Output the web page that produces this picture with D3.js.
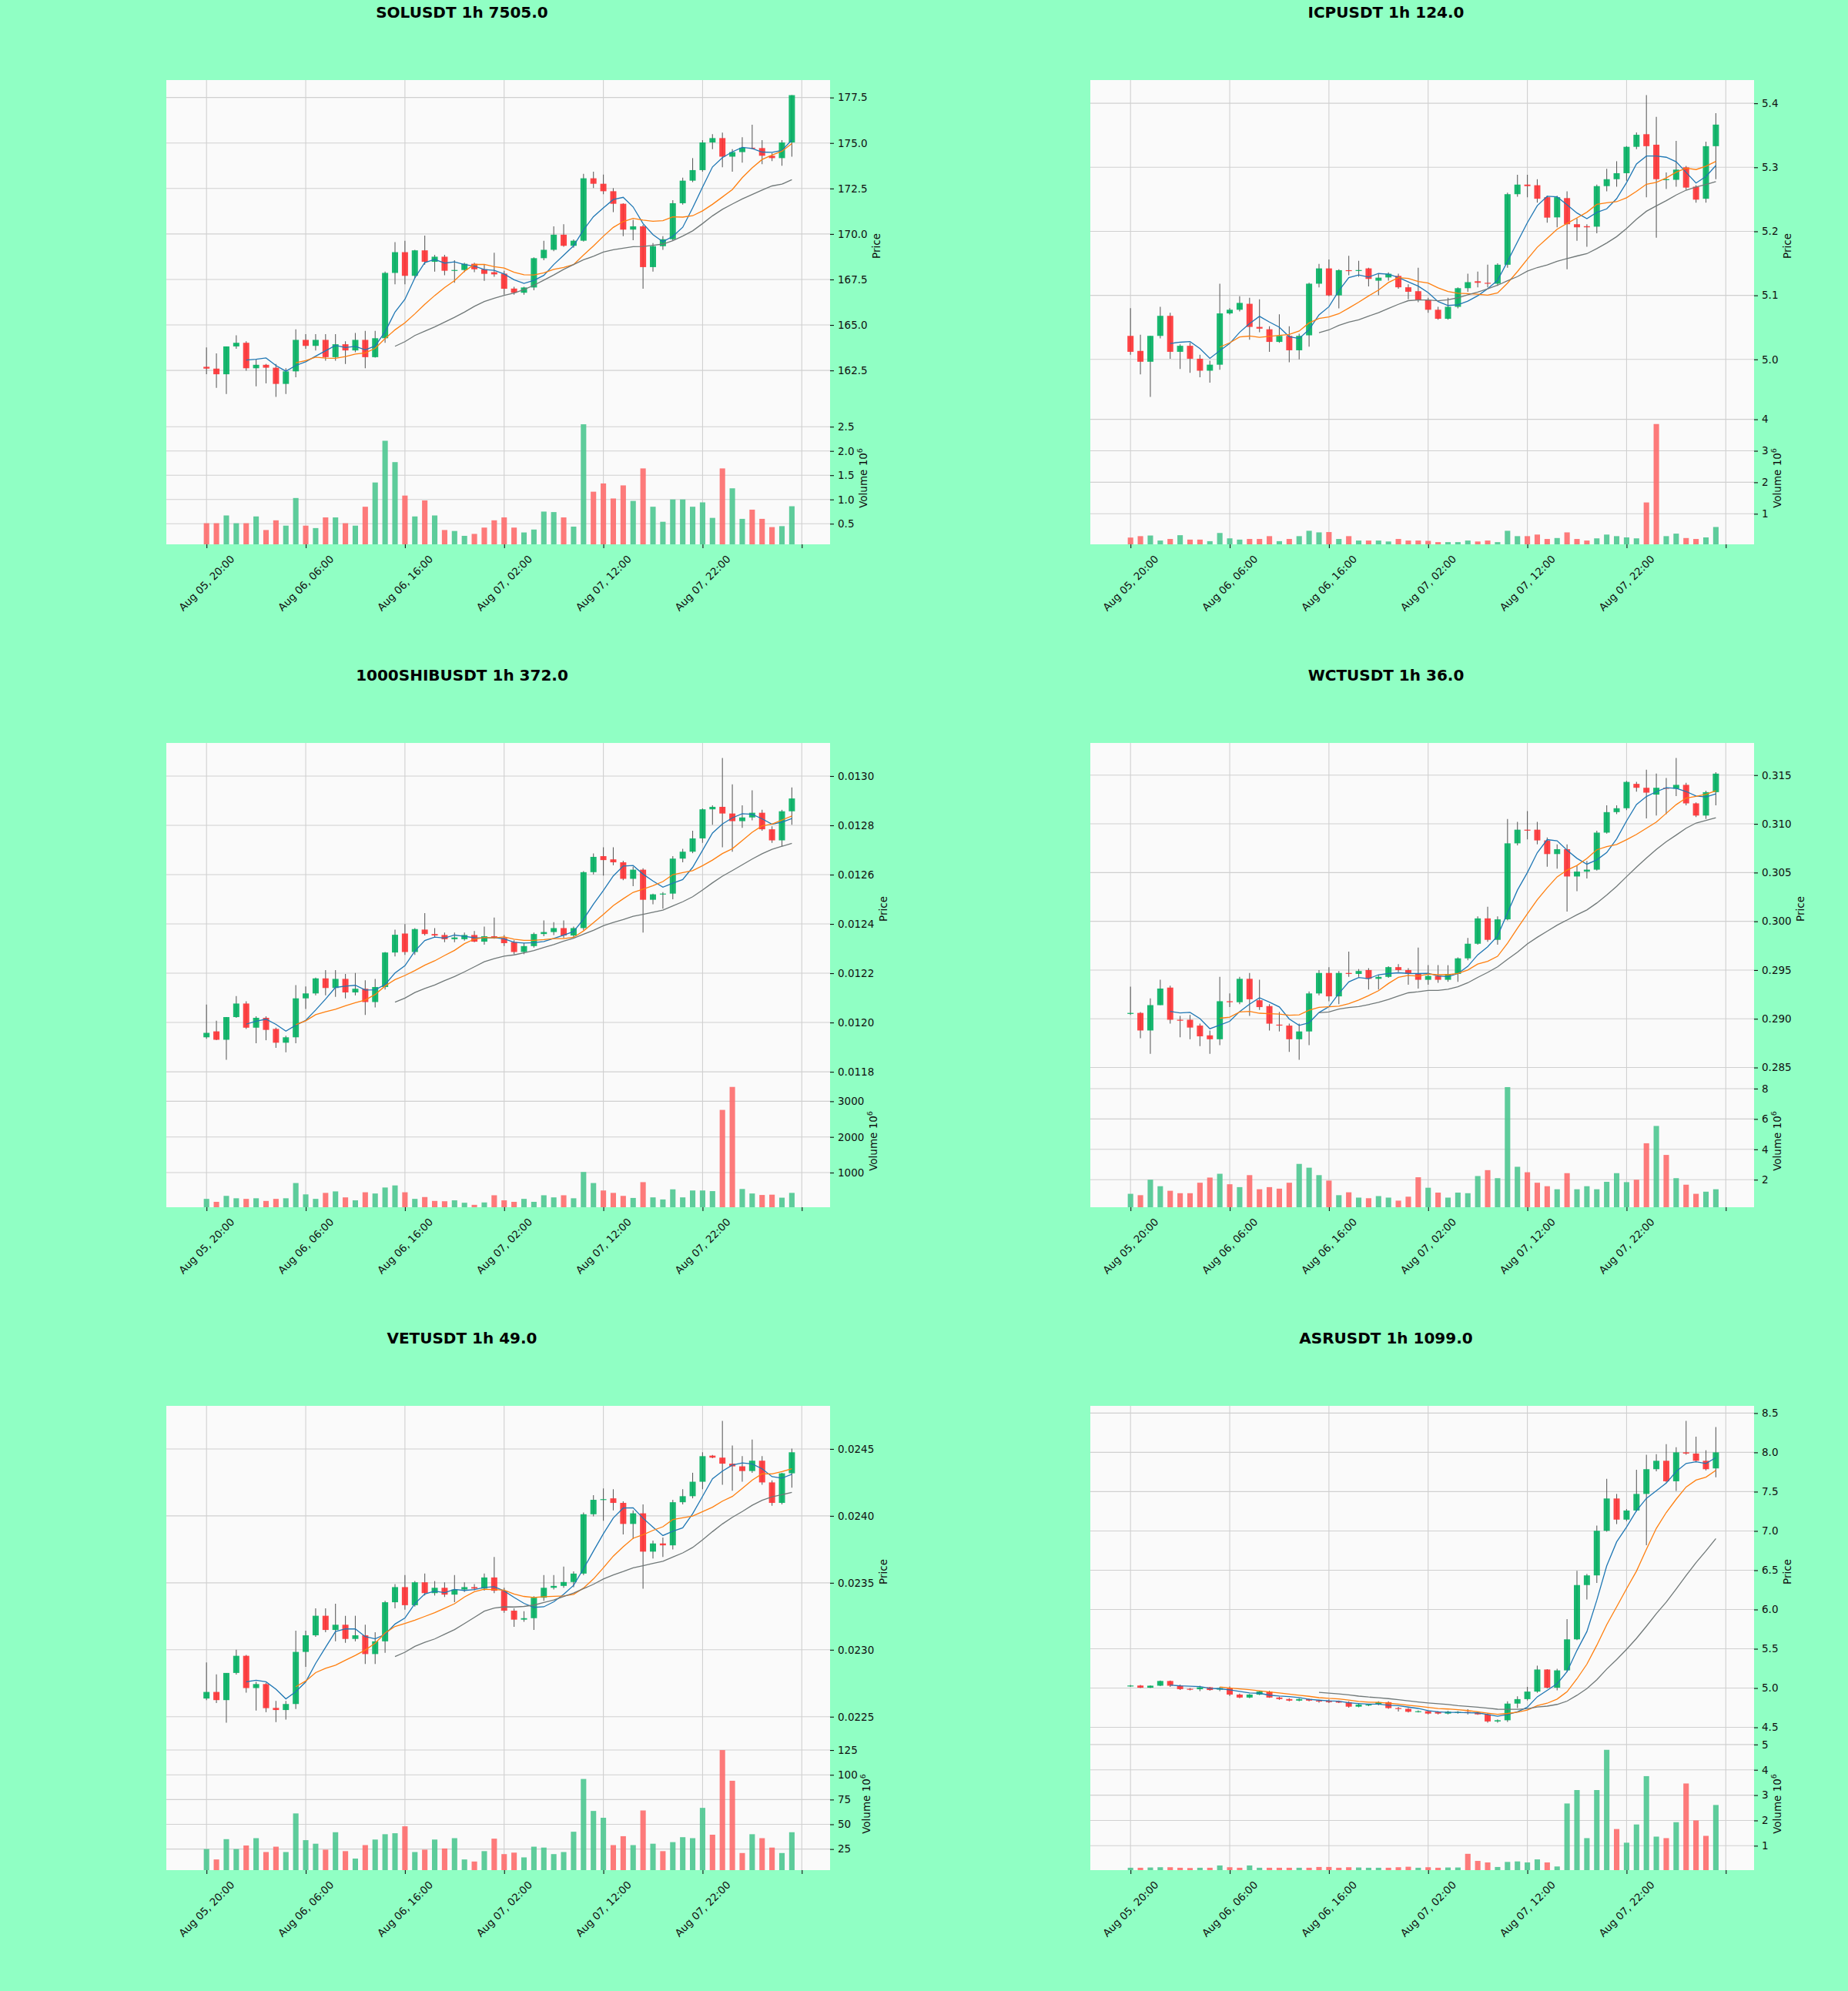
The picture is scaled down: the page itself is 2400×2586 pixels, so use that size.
<!DOCTYPE html>
<html>
<head>
<meta charset="utf-8">
<script src="https://cdn.jsdelivr.net/npm/d3@7"></script>
<style>
  body { margin: 0; background: #90ffc4; }
  svg text { font-family: "DejaVu Sans", sans-serif; }
</style>
</head>
<body>
<div id="chart"></div>
<script>
// ---- shared time axis (hourly candles, index 0 = Aug 05 20:00) ----
const timeTicks = [0, 10, 20, 30, 40, 50, 60];
const timeLabels = ["Aug 05, 20:00", "Aug 06, 06:00", "Aug 06, 16:00", "Aug 07, 02:00", "Aug 07, 12:00", "Aug 07, 22:00"];
const maWindows = [5, 10, 20];

// ---- SOLUSDT ----
const solOpen = [162.70,162.60,162.29,163.82,164.02,162.62,162.81,162.65,161.76,162.45,
164.18,163.85,164.18,163.23,163.94,163.60,164.18,163.23,164.27,167.86,
169.00,167.70,169.10,168.47,168.75,167.98,168.02,168.36,168.06,167.90,
167.82,167.00,166.77,167.06,168.67,169.13,169.96,169.35,169.63,173.06,
172.76,172.35,171.66,170.24,170.42,168.18,169.33,169.71,171.69,172.93,
173.51,175.03,175.27,174.25,174.50,174.74,174.72,174.30,174.17,175.03];
const solHigh = [163.77,163.44,163.82,164.43,164.10,163.11,162.86,162.86,162.62,164.76,
164.50,164.50,164.50,164.50,164.10,164.56,164.68,164.68,167.93,169.55,
169.63,169.13,169.91,168.85,168.85,168.56,168.42,168.42,168.31,168.97,
167.98,167.10,167.10,168.72,169.63,170.42,170.54,169.70,173.31,173.42,
173.26,172.52,171.69,170.78,170.50,169.50,169.88,171.86,173.10,174.17,
175.16,175.49,175.57,174.66,175.32,176.00,175.16,174.45,175.16,177.63];
const solLow = [162.29,161.54,161.21,163.69,162.48,161.63,161.79,161.05,161.21,162.12,
163.69,163.60,163.03,163.03,162.86,163.50,162.62,163.20,164.02,167.24,
167.24,167.57,168.31,167.93,167.73,167.32,167.90,167.90,167.43,167.65,
166.66,166.66,166.66,166.91,168.56,169.05,169.30,169.25,169.58,172.52,
172.19,171.20,169.88,169.66,166.99,167.93,169.13,169.63,171.61,172.85,
173.42,174.66,173.67,173.42,173.92,174.66,173.84,174.00,173.75,174.25];
const solClose = [162.60,162.29,163.82,164.02,162.62,162.81,162.65,161.76,162.45,164.18,
163.85,164.18,163.23,163.94,163.60,164.18,163.23,164.27,167.86,169.00,
167.70,169.10,168.47,168.75,167.98,168.02,168.36,168.06,167.81,167.78,
166.99,166.77,167.06,168.67,169.13,169.96,169.35,169.63,173.06,172.76,
172.35,171.66,170.24,170.42,168.18,169.33,169.71,171.69,172.93,173.51,
175.03,175.27,174.25,174.50,174.74,174.72,174.30,174.17,175.03,177.63];
const solVol = [0.51,0.51,0.67,0.51,0.51,0.65,0.37,0.57,0.46,1.03,
0.46,0.41,0.63,0.63,0.51,0.46,0.85,1.35,2.21,1.77,
1.08,0.65,0.98,0.67,0.37,0.35,0.25,0.29,0.42,0.57,
0.63,0.42,0.32,0.38,0.75,0.74,0.63,0.44,2.55,1.16,
1.33,1.02,1.29,0.97,1.64,0.85,0.54,1.00,1.00,0.85,
0.94,0.62,1.64,1.23,0.60,0.79,0.60,0.43,0.45,0.86];
const solPriceTicks = [162.5, 165.0, 167.5, 170.0, 172.5, 175.0, 177.5];
const solVolTicks = [0.5, 1.0, 1.5, 2.0, 2.5];

// ---- ICPUSDT ----
const icpOpen = [5.0367,5.0132,4.9963,5.0367,5.0680,5.0118,5.0212,5.0010,4.9823,4.9917,
5.0718,5.0775,5.0868,5.0507,5.0470,5.0273,5.0367,5.0142,5.0376,5.1182,
5.1421,5.1000,5.1393,5.1385,5.1421,5.1229,5.1280,5.1304,5.1126,5.1065,
5.0925,5.0775,5.0634,5.0821,5.1112,5.1220,5.1196,5.1182,5.1478,5.2580,
5.2730,5.2720,5.2533,5.2218,5.2519,5.2111,5.2080,5.2073,5.2706,5.2814,
5.2908,5.3320,5.3517,5.3353,5.2805,5.2805,5.3000,5.2697,5.2509,5.3330];
const icpHigh = [5.0800,5.0385,5.0367,5.0821,5.0728,5.0236,5.0259,5.0071,4.9978,5.1182,
5.0800,5.0985,5.0962,5.0939,5.0517,5.0704,5.0517,5.0400,5.1196,5.1492,
5.1562,5.1407,5.1618,5.1540,5.1430,5.1337,5.1360,5.1337,5.1173,5.1431,
5.0962,5.0822,5.0962,5.1126,5.1337,5.1370,5.1478,5.1501,5.2603,5.2884,
5.2884,5.2814,5.2556,5.2556,5.2626,5.2204,5.2111,5.2730,5.2978,5.3095,
5.3330,5.3545,5.4127,5.3789,5.2920,5.3414,5.3023,5.2720,5.3400,5.3845];
const icpLow = [5.0071,4.9767,4.9415,5.0329,5.0010,4.9851,4.9790,4.9720,4.9635,4.9837,
5.0700,5.0750,5.0306,5.0423,5.0118,5.0259,4.9954,4.9999,5.0200,5.1126,
5.0985,5.0798,5.1313,5.1290,5.1140,5.1000,5.1230,5.1103,5.0939,5.0892,
5.0728,5.0620,5.0620,5.0798,5.1056,5.1126,5.1126,5.1150,5.1431,5.2542,
5.2533,5.2448,5.2134,5.2063,5.1407,5.1853,5.1759,5.1970,5.2626,5.2697,
5.2791,5.3283,5.2533,5.1900,5.2660,5.2697,5.2650,5.2448,5.2448,5.2814];
const icpClose = [5.0118,4.9963,5.0367,5.0680,5.0118,5.0212,5.0010,4.9823,4.9917,5.0718,
5.0775,5.0882,5.0507,5.0480,5.0273,5.0367,5.0142,5.0367,5.1182,5.1421,
5.1000,5.1393,5.1385,5.1395,5.1257,5.1276,5.1337,5.1126,5.1056,5.0925,
5.0775,5.0634,5.0821,5.1112,5.1206,5.1196,5.1182,5.1478,5.2580,5.2730,
5.2706,5.2509,5.2214,5.2533,5.2111,5.2063,5.2063,5.2706,5.2814,5.2908,
5.3320,5.3508,5.3330,5.2814,5.2814,5.2964,5.2683,5.2495,5.3330,5.3667];
const icpVol = [0.245,0.29,0.31,0.15,0.20,0.32,0.18,0.18,0.13,0.39,
0.22,0.18,0.20,0.20,0.29,0.13,0.20,0.29,0.46,0.41,
0.42,0.20,0.29,0.15,0.15,0.15,0.12,0.20,0.15,0.15,
0.14,0.10,0.10,0.10,0.15,0.12,0.15,0.10,0.46,0.29,
0.29,0.34,0.20,0.23,0.41,0.20,0.15,0.22,0.34,0.29,
0.25,0.22,1.36,3.85,0.29,0.37,0.23,0.20,0.25,0.58];
const icpPriceTicks = [5.0, 5.1, 5.2, 5.3, 5.4];
const icpVolTicks = [1, 2, 3, 4];

// ---- 1000SHIBUSDT ----
const shibOpen = [0.011940,0.011964,0.011930,0.012022,0.012077,0.011979,0.012019,0.011974,0.011918,0.011940,
0.012098,0.012118,0.012179,0.012140,0.012177,0.012122,0.012137,0.012083,0.012144,0.012284,
0.012361,0.012286,0.012377,0.012359,0.012355,0.012338,0.012338,0.012355,0.012328,0.012350,
0.012343,0.012326,0.012286,0.012310,0.012359,0.012367,0.012383,0.012353,0.012383,0.012610,
0.012675,0.012662,0.012650,0.012583,0.012620,0.012498,0.012520,0.012523,0.012665,0.012693,
0.012747,0.012865,0.012875,0.012848,0.012817,0.012832,0.012851,0.012784,0.012739,0.012857];
const shibHigh = [0.012073,0.012007,0.012022,0.012107,0.012086,0.012025,0.012025,0.011979,0.011946,0.012152,
0.012146,0.012182,0.012213,0.012213,0.012197,0.012201,0.012171,0.012177,0.012286,0.012377,
0.012399,0.012383,0.012444,0.012383,0.012365,0.012365,0.012365,0.012371,0.012389,0.012426,
0.012355,0.012334,0.012322,0.012365,0.012414,0.012407,0.012414,0.012389,0.012614,0.012686,
0.012711,0.012711,0.012656,0.012632,0.012626,0.012523,0.012529,0.012675,0.012705,0.012778,
0.012869,0.012881,0.013073,0.012966,0.012881,0.012942,0.012863,0.012796,0.012863,0.012954];
const shibLow = [0.011934,0.011928,0.011849,0.012019,0.011974,0.011916,0.011928,0.011897,0.011879,0.011916,
0.012055,0.012110,0.012110,0.012104,0.012098,0.012110,0.012031,0.012061,0.012134,0.012268,
0.012274,0.012274,0.012353,0.012347,0.012326,0.012326,0.012332,0.012326,0.012316,0.012340,
0.012310,0.012277,0.012277,0.012304,0.012350,0.012355,0.012343,0.012347,0.012374,0.012601,
0.012596,0.012638,0.012577,0.012553,0.012365,0.012480,0.012462,0.012500,0.012650,0.012687,
0.012729,0.012802,0.012711,0.012693,0.012790,0.012820,0.012778,0.012729,0.012714,0.012802];
const shibClose = [0.011958,0.011930,0.012022,0.012077,0.011979,0.012019,0.011970,0.011918,0.011940,0.012098,
0.012118,0.012179,0.012140,0.012177,0.012122,0.012137,0.012083,0.012144,0.012284,0.012356,
0.012286,0.012379,0.012359,0.012353,0.012338,0.012345,0.012355,0.012328,0.012350,0.012343,
0.012322,0.012286,0.012310,0.012359,0.012367,0.012383,0.012353,0.012383,0.012610,0.012672,
0.012659,0.012650,0.012583,0.012620,0.012498,0.012520,0.012523,0.012665,0.012693,0.012747,
0.012865,0.012875,0.012848,0.012817,0.012832,0.012851,0.012784,0.012739,0.012857,0.012909];
const shibVol = [263,180,347,280,263,280,205,263,280,707,
389,263,431,473,305,222,448,414,582,640,
448,263,314,205,197,222,155,96,163,364,
222,180,263,180,364,305,364,280,1017,707,
498,431,347,289,732,305,247,531,305,498,
498,481,2758,3402,540,414,372,381,297,431];
const shibPriceTicks = [0.0118, 0.0120, 0.0122, 0.0124, 0.0126, 0.0128, 0.0130];
const shibVolTicks = [1000, 2000, 3000];

// ---- WCTUSDT ----
const wctOpen = [0.2905,0.2906,0.2888,0.2914,0.2932,0.2899,0.2899,0.2893,0.2883,0.2879,
0.2918,0.2917,0.2941,0.2919,0.2913,0.2894,0.2893,0.2879,0.2887,0.2926,
0.2947,0.2923,0.2947,0.2946,0.2950,0.2941,0.2943,0.2953,0.2950,0.2946,
0.2940,0.2944,0.2940,0.2946,0.2962,0.2977,0.3003,0.2981,0.3002,0.3080,
0.3094,0.3094,0.3083,0.3069,0.3074,0.3046,0.3051,0.3053,0.3091,0.3112,
0.3116,0.3141,0.3137,0.3130,0.3137,0.3136,0.3140,0.3121,0.31085,0.31325];
const wctHigh = [0.2933,0.2907,0.2921,0.2940,0.2934,0.2903,0.2904,0.2895,0.2888,0.2943,
0.2926,0.2943,0.2947,0.2940,0.2915,0.2907,0.2895,0.2895,0.2928,0.2950,
0.2953,0.2949,0.2969,0.2951,0.2952,0.2945,0.2954,0.2956,0.2952,0.2973,
0.2955,0.2955,0.2955,0.2963,0.2983,0.3005,0.3015,0.3005,0.3105,0.3102,
0.3113,0.3102,0.3086,0.3079,0.3079,0.3057,0.3062,0.3093,0.3119,0.3119,
0.3144,0.3143,0.31555,0.31515,0.3147,0.31675,0.3142,0.3122,0.3134,0.3153];
const wctLow = [0.2904,0.2880,0.2864,0.2914,0.2895,0.2881,0.2879,0.2872,0.2864,0.2873,
0.2912,0.2915,0.2903,0.2909,0.2888,0.2887,0.2866,0.2858,0.2873,0.2924,
0.2918,0.2915,0.2943,0.2943,0.2930,0.2930,0.2942,0.2948,0.2935,0.2931,
0.2935,0.2937,0.2938,0.2938,0.2960,0.2976,0.2979,0.2976,0.3001,0.3078,
0.3084,0.3079,0.3056,0.3054,0.3010,0.3031,0.3044,0.3052,0.3090,0.3110,
0.3114,0.3133,0.31055,0.31085,0.3110,0.31285,0.3119,0.3107,0.3105,0.3119];
const wctClose = [0.2906,0.2888,0.2914,0.2931,0.2899,0.2898,0.2891,0.2882,0.2879,0.2918,
0.2917,0.2941,0.2920,0.2912,0.2895,0.2893,0.2879,0.2887,0.2926,0.2947,
0.2923,0.2947,0.2946,0.2949,0.2941,0.2943,0.2953,0.2950,0.2946,0.2940,
0.2944,0.2940,0.2946,0.2962,0.2977,0.3003,0.2981,0.3002,0.3080,0.3094,
0.3093,0.3083,0.3069,0.3074,0.3046,0.3051,0.3053,0.3091,0.3112,0.3116,
0.3143,0.3137,0.3132,0.3137,0.3136,0.3140,0.3121,0.31085,0.31325,0.31515];
const wctVol = [1.07,0.98,2.00,1.57,1.27,1.11,1.11,1.80,2.14,2.39,
1.70,1.51,2.30,1.37,1.51,1.41,1.80,3.04,2.79,2.30,
1.94,0.98,1.17,0.82,0.78,0.92,0.82,0.62,0.88,2.16,
1.47,1.15,0.82,1.15,1.11,2.24,2.63,2.10,8.10,2.85,
2.49,1.80,1.57,1.37,2.43,1.37,1.57,1.37,1.86,2.43,
1.84,2.00,4.40,5.54,3.63,2.10,1.67,1.07,1.21,1.37];
const wctPriceTicks = [0.285, 0.290, 0.295, 0.300, 0.305, 0.310, 0.315];
const wctVolTicks = [2, 4, 6, 8];

// ---- VETUSDT ----
const vetOpen = [0.022636,0.022685,0.022624,0.022827,0.022955,0.022714,0.022744,0.022566,0.022550,0.022595,
0.022984,0.023108,0.023254,0.023148,0.023187,0.023081,0.023108,0.022968,0.023063,0.023355,
0.023468,0.023333,0.023504,0.023423,0.023463,0.023412,0.023450,0.023468,0.023457,0.023540,
0.023441,0.023292,0.023225,0.023236,0.023389,0.023463,0.023477,0.023506,0.023569,0.024012,
0.024120,0.024131,0.024097,0.023940,0.024019,0.023733,0.023794,0.023780,0.024102,0.024147,
0.024255,0.024450,0.024435,0.024390,0.024370,0.024335,0.024412,0.024250,0.024097,0.024318];
const vetHigh = [0.022905,0.022816,0.022827,0.023000,0.022962,0.022760,0.022753,0.022618,0.022618,0.023142,
0.023142,0.023310,0.023310,0.023344,0.023254,0.023254,0.023187,0.023131,0.023366,0.023490,
0.023558,0.023513,0.023569,0.023513,0.023504,0.023558,0.023504,0.023490,0.023569,0.023693,
0.023463,0.023310,0.023288,0.023400,0.023558,0.023558,0.023621,0.023585,0.024025,0.024154,
0.024205,0.024199,0.024109,0.024041,0.024086,0.023816,0.023839,0.024120,0.024199,0.024322,
0.024475,0.024455,0.024709,0.024525,0.024446,0.024570,0.024446,0.024266,0.024322,0.024502];
const vetLow = [0.022624,0.022602,0.022456,0.022815,0.022680,0.022546,0.022534,0.022460,0.022478,0.022557,
0.022872,0.023097,0.023131,0.023063,0.023052,0.023063,0.022894,0.022894,0.022977,0.023310,
0.023299,0.023322,0.023405,0.023405,0.023394,0.023355,0.023432,0.023445,0.023441,0.023423,
0.023277,0.023171,0.023209,0.023148,0.023366,0.023450,0.023463,0.023468,0.023558,0.023996,
0.023963,0.024041,0.023861,0.023828,0.023456,0.023681,0.023693,0.023749,0.024086,0.024131,
0.024199,0.024430,0.024232,0.024187,0.024255,0.024322,0.024232,0.024075,0.024086,0.024210];
const vetClose = [0.022685,0.022624,0.022827,0.022955,0.022714,0.022744,0.022564,0.022550,0.022595,0.022984,
0.023108,0.023254,0.023148,0.023187,0.023081,0.023108,0.022968,0.023063,0.023355,0.023468,
0.023333,0.023504,0.023423,0.023463,0.023412,0.023450,0.023468,0.023457,0.023540,0.023441,
0.023292,0.023225,0.023236,0.023389,0.023463,0.023477,0.023506,0.023569,0.024012,0.024120,
0.024125,0.024097,0.023940,0.024019,0.023733,0.023794,0.023780,0.024102,0.024147,0.024255,
0.024446,0.024435,0.024390,0.024370,0.024335,0.024412,0.024250,0.024097,0.024318,0.024475];
const vetVol = [25,14.5,35,25,28.6,36,22,27.4,22,61,
34,30.4,24.4,42,22.9,15.4,29,34.6,40,41,
48,22,24.4,34.6,25.6,36,14.5,12.4,22.9,35.5,
19.9,21.4,16.6,27.4,26.5,19.9,22,42.5,95.8,63.5,
56.6,29,38,29,64,30.4,22.9,32,37,36,
66.6,39.5,125,94,21,40,36,26.5,21,42];
const vetPriceTicks = [0.0225, 0.0230, 0.0235, 0.0240, 0.0245];
const vetVolTicks = [25, 50, 75, 100, 125];

// ---- ASRUSDT ----
const asrOpen = [5.025,5.032,5.005,5.030,5.090,5.030,4.990,4.985,5.010,4.980,
4.995,4.917,4.879,4.917,4.956,4.879,4.860,4.840,4.860,4.840,
4.840,4.830,4.820,4.763,4.785,4.790,4.820,4.745,4.735,4.698,
4.705,4.700,4.675,4.690,4.695,4.685,4.665,4.575,4.590,4.802,
4.859,4.955,5.236,5.005,5.225,5.620,6.311,6.434,7.002,7.413,
7.144,7.260,7.471,7.786,7.893,7.632,8.000,7.985,7.893,7.796];
const asrHigh = [5.040,5.040,5.035,5.095,5.095,5.045,5.000,5.030,5.015,5.015,
5.020,4.930,4.925,4.965,4.965,4.890,4.870,4.870,4.865,4.850,
4.855,4.840,4.830,4.800,4.800,4.830,4.830,4.760,4.745,4.715,
4.715,4.705,4.710,4.705,4.730,4.700,4.680,4.600,4.830,4.895,
5.015,5.285,5.240,5.245,5.877,6.492,6.454,7.068,7.663,7.471,
7.279,7.778,7.970,7.978,8.104,8.066,8.400,8.200,8.027,8.323];
const asrLow = [5.015,5.000,5.000,5.025,5.015,4.975,4.970,4.960,4.965,4.960,
4.900,4.870,4.870,4.910,4.875,4.850,4.830,4.830,4.830,4.815,
4.810,4.810,4.750,4.755,4.770,4.780,4.735,4.700,4.690,4.690,
4.665,4.665,4.665,4.675,4.665,4.660,4.560,4.560,4.570,4.745,
4.840,4.940,4.995,4.970,5.205,5.610,6.127,6.338,6.990,7.087,
7.125,7.248,6.818,7.759,7.617,7.509,7.970,7.874,7.770,7.682];
const asrClose = [5.032,5.005,5.030,5.090,5.030,4.986,4.980,5.010,4.975,5.000,
4.917,4.879,4.917,4.956,4.879,4.860,4.840,4.860,4.840,4.830,
4.820,4.815,4.763,4.790,4.790,4.820,4.745,4.735,4.698,4.705,
4.675,4.675,4.700,4.695,4.685,4.665,4.575,4.590,4.802,4.859,
4.955,5.236,5.005,5.225,5.620,6.311,6.434,7.002,7.413,7.144,
7.260,7.471,7.786,7.893,7.632,8.000,7.985,7.893,7.786,8.000];
const asrVol = [0.13,0.13,0.14,0.15,0.15,0.13,0.12,0.13,0.13,0.22,
0.15,0.13,0.22,0.13,0.13,0.13,0.13,0.13,0.13,0.16,
0.16,0.13,0.15,0.14,0.13,0.13,0.13,0.15,0.17,0.13,
0.15,0.13,0.14,0.14,0.68,0.40,0.34,0.16,0.36,0.38,
0.34,0.46,0.34,0.18,2.67,3.20,1.30,3.20,4.79,1.66,
1.12,1.84,3.75,1.36,1.30,1.93,3.46,2.00,1.39,2.61];
const asrPriceTicks = [4.5, 5.0, 5.5, 6.0, 6.5, 7.0, 7.5, 8.0, 8.5];
const asrVolTicks = [1, 2, 3, 4, 5];

// panel table built from the arrays above
const panels = [
  { title: "SOLUSDT 1h 7505.0", open: solOpen, high: solHigh, low: solLow, close: solClose, vol: solVol,
    priceTicks: solPriceTicks, priceFmt: ".1f", volTicks: solVolTicks, volFmt: ".1f" },
  { title: "ICPUSDT 1h 124.0", open: icpOpen, high: icpHigh, low: icpLow, close: icpClose, vol: icpVol,
    priceTicks: icpPriceTicks, priceFmt: ".1f", volTicks: icpVolTicks, volFmt: "d" },
  { title: "1000SHIBUSDT 1h 372.0", open: shibOpen, high: shibHigh, low: shibLow, close: shibClose, vol: shibVol,
    priceTicks: shibPriceTicks, priceFmt: ".4f", volTicks: shibVolTicks, volFmt: "d" },
  { title: "WCTUSDT 1h 36.0", open: wctOpen, high: wctHigh, low: wctLow, close: wctClose, vol: wctVol,
    priceTicks: wctPriceTicks, priceFmt: ".3f", volTicks: wctVolTicks, volFmt: "d" },
  { title: "VETUSDT 1h 49.0", open: vetOpen, high: vetHigh, low: vetLow, close: vetClose, vol: vetVol,
    priceTicks: vetPriceTicks, priceFmt: ".4f", volTicks: vetVolTicks, volFmt: "d" },
  { title: "ASRUSDT 1h 1099.0", open: asrOpen, high: asrHigh, low: asrLow, close: asrClose, vol: asrVol,
    priceTicks: asrPriceTicks, priceFmt: ".1f", volTicks: asrVolTicks, volFmt: "d" }
];

// ---- layout / style ----
const W = 2400, H = 2586;
const colX = [216, 1416], rowY = [104, 965, 1826];
const plotW = 862, priceH = 431, volH = 172;
const xDomain = [-4.05, 62.85];
const fs = 13.5;
const upColor = "#00b060", downColor = "#fe3032";
const volUp = "#4dc790", volDown = "#fd6b6c";
const wickColor = "#606060";
const maColors = ["#1f77b4", "#ff7f0e", "#707878"];
const textColor = "#101010";

const svg = d3.select("#chart").append("svg")
    .attr("width", W)
    .attr("height", H);

svg.append("rect").attr("width", W).attr("height", H).attr("fill", "#90ffc4");

function sma(arr, n) {
    return arr.map((d, i) => i < n - 1 ? null : d3.mean(arr.slice(i - n + 1, i + 1)));
}

function styleAxis(sel) {
    sel.select(".domain").remove();
    sel.attr("font-size", null).attr("font-family", null);
    sel.selectAll("line").attr("stroke", textColor).attr("stroke-width", 1.1);
    sel.selectAll("text").attr("font-size", fs).attr("fill", textColor);
}

function drawPanel(p, k) {
    const x0 = colX[k % 2], y0 = rowY[Math.floor(k / 2)];
    const xR = x0 + plotW, yMid = y0 + priceH, yBot = y0 + priceH + volH;
    const idx = d3.range(p.close.length);

    const x = d3.scaleLinear().domain(xDomain).range([x0, xR]);
    const lo = d3.min(p.low), hi = d3.max(p.high), pad = (hi - lo) * 0.05;
    const y = d3.scaleLinear().domain([lo - pad, hi + pad]).range([yMid, y0]);
    const vy = d3.scaleLinear()
        .domain([0.3 * d3.min(p.vol), 1.1 * d3.max(p.vol)])
        .range([yBot, yMid]);
    const step = x(1) - x(0);

    const g = svg.append("g");

    // title
    g.append("text")
        .attr("x", x0 + 384).attr("y", y0 - 81)
        .attr("text-anchor", "middle")
        .attr("font-size", 20).attr("font-weight", "bold").attr("fill", "#000")
        .text(p.title);

    // axes background
    g.append("rect")
        .attr("x", x0).attr("y", y0).attr("width", plotW).attr("height", yBot - y0)
        .attr("fill", "#fafafa");

    // grid
    const grid = g.append("g").attr("stroke", "#d0d0d0").attr("stroke-width", 1.1);
    grid.selectAll(".gx").data(timeTicks).join("line").attr("class", "gx")
        .attr("x1", d => x(d)).attr("x2", d => x(d)).attr("y1", y0).attr("y2", yBot);
    grid.selectAll(".gy").data(p.priceTicks).join("line").attr("class", "gy")
        .attr("x1", x0).attr("x2", xR).attr("y1", d => y(d)).attr("y2", d => y(d));
    grid.selectAll(".gv").data(p.volTicks).join("line").attr("class", "gv")
        .attr("x1", x0).attr("x2", xR).attr("y1", d => vy(d)).attr("y2", d => vy(d));

    // volume bars
    g.append("g").selectAll("rect").data(idx).join("rect")
        .attr("x", i => x(i) - step * 0.275)
        .attr("width", step * 0.55)
        .attr("y", i => vy(p.vol[i]))
        .attr("height", i => yBot - vy(p.vol[i]))
        .attr("fill", i => p.close[i] >= p.open[i] ? volUp : volDown)
        .attr("fill-opacity", 0.9);

    // wicks
    g.append("g").selectAll("line").data(idx).join("line")
        .attr("x1", i => x(i)).attr("x2", i => x(i))
        .attr("y1", i => y(p.high[i])).attr("y2", i => y(p.low[i]))
        .attr("stroke", wickColor).attr("stroke-width", 1.1);

    // candle bodies
    g.append("g").selectAll("rect").data(idx).join("rect")
        .attr("x", i => x(i) - step * 0.31)
        .attr("width", step * 0.62)
        .attr("y", i => y(Math.max(p.open[i], p.close[i])))
        .attr("height", i => Math.max(1.2, Math.abs(y(p.open[i]) - y(p.close[i]))))
        .attr("fill", i => p.close[i] >= p.open[i] ? upColor : downColor)
        .attr("fill-opacity", 0.9);

    // moving averages of the close
    maWindows.forEach((n, m) => {
        const ma = sma(p.close, n);
        g.append("path")
            .datum(ma)
            .attr("fill", "none")
            .attr("stroke", maColors[m])
            .attr("stroke-width", 1.3)
            .attr("d", d3.line()
                .defined(d => d != null)
                .x((d, i) => x(i))
                .y(d => y(d)));
    });

    // right price axis
    const ya = g.append("g").attr("transform", "translate(" + xR + ",0)")
        .call(d3.axisRight(y).tickValues(p.priceTicks).tickFormat(d3.format(p.priceFmt))
            .tickSize(5).tickPadding(5));
    styleAxis(ya);
    const pw = d3.max(ya.selectAll("text").nodes(), n => n.getComputedTextLength());

    // right volume axis
    const va = g.append("g").attr("transform", "translate(" + xR + ",0)")
        .call(d3.axisRight(vy).tickValues(p.volTicks).tickFormat(d3.format(p.volFmt))
            .tickSize(5).tickPadding(5));
    styleAxis(va);
    const vw = d3.max(va.selectAll("text").nodes(), n => n.getComputedTextLength());

    // axis titles
    const px = xR + 10 + pw + 5.6 + 0.8 * fs;
    g.append("text")
        .attr("transform", "translate(" + px + "," + (y0 + priceH / 2) + ") rotate(-90)")
        .attr("text-anchor", "middle").attr("font-size", fs).attr("fill", textColor)
        .text("Price");

    const vx = xR + 10 + vw + 5.6 + 0.8 * fs;
    const vt = g.append("text")
        .attr("transform", "translate(" + vx + "," + (yMid + volH / 2) + ") rotate(-90)")
        .attr("text-anchor", "middle").attr("font-size", fs).attr("fill", textColor);
    vt.append("tspan").text("Volume  10");
    vt.append("tspan").attr("font-size", fs * 0.7).attr("dy", -fs * 0.45).text("6");

    // bottom time axis
    const xa = g.append("g").attr("transform", "translate(0," + yBot + ")")
        .call(d3.axisBottom(x).tickValues(timeTicks).tickFormat("").tickSize(5));
    styleAxis(xa);

    timeLabels.forEach((lab, i) => {
        const t = g.append("text")
            .attr("font-size", fs).attr("fill", textColor)
            .attr("text-anchor", "middle").attr("dominant-baseline", "central")
            .text(lab);
        const L = t.node().getComputedTextLength();
        const cy = yBot + 11 + 0.7071 * (L + fs * 1.15) / 2;
        t.attr("transform", "translate(" + x(timeTicks[i]) + "," + cy + ") rotate(-45)");
    });
}

panels.forEach(drawPanel);
</script>
</body>
</html>
